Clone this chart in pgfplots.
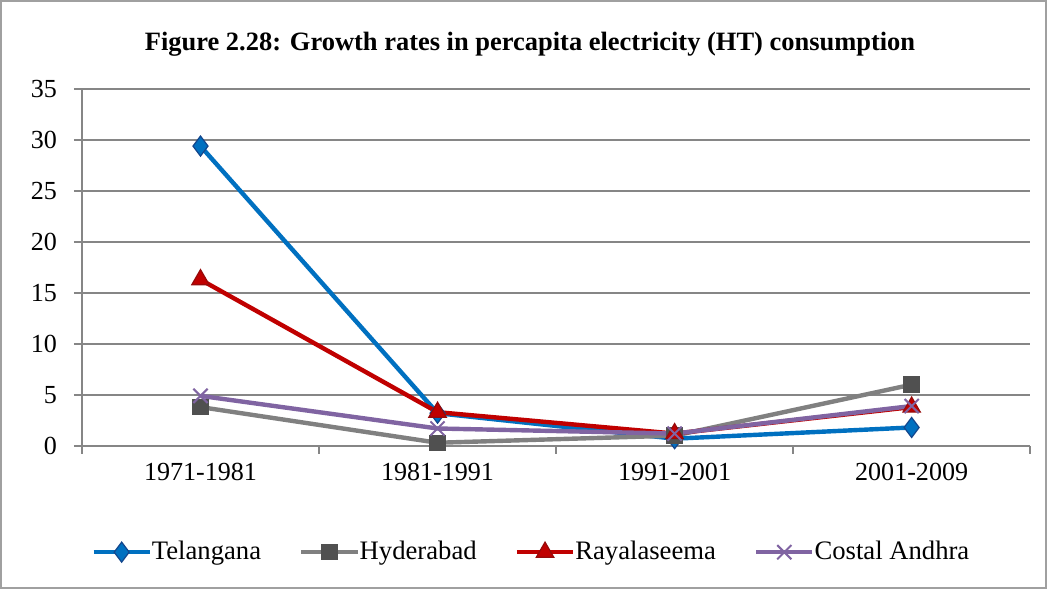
\documentclass[border=0pt]{standalone}
\usepackage{fontspec}
\setmainfont{Liberation Serif}
\usepackage{pgfplots}
\pgfplotsset{compat=1.18}
\definecolor{cTel}{RGB}{0,112,192}
\definecolor{cTelD}{RGB}{20,70,140}
\definecolor{cHyd}{RGB}{128,128,128}
\definecolor{cHydD}{RGB}{80,80,80}
\definecolor{cRay}{RGB}{192,0,0}
\definecolor{cRayD}{RGB}{150,10,10}
\definecolor{cCos}{RGB}{128,100,162}
\definecolor{cGrid}{RGB}{134,134,134}
\begin{document}
\begin{tikzpicture}
\draw[draw={rgb,255:red,160;green,160;blue,160}, line width=0.8pt] (-40.5pt,-71pt) rectangle (481pt,222pt);
\node[font=\fontsize{13.2}{15}\selectfont\bfseries] at (223.5pt,200.5pt) {Figure 2.28: Growth rates in percapita electricity (HT) consumption};
\begin{axis}[
  at={(0,0)}, anchor=south west,
  scale only axis, width=473pt, height=178pt,
  xmin=0, xmax=4, ymin=0, ymax=35,
  axis x line=bottom, axis y line=left,
  axis line style={-, draw=cGrid, line width=1pt},
  xtick={0.5,1.5,2.5,3.5},
  xticklabels={1971-1981,1981-1991,1991-2001,2001-2009},
  major x tick style={draw=none},
  minor xtick={0,1,2,3,4},
  minor x tick style={draw=cGrid, line width=1pt},
  minor tick length=4pt,
  ytick={0,5,...,35},
  ytick style={draw=cGrid, line width=1pt},
  major tick length=4pt,
  tick align=outside,
  ymajorgrids, grid style={draw=cGrid, line width=1pt},
  ticklabel style={font=\fontsize{13}{15}\selectfont},
  yticklabel style={xshift=-5pt},
  xticklabel style={yshift=-1pt},
  /pgf/number format/assume math mode=true,
  clip=false,
  legend columns=4,
  legend style={at={(0.475,-0.298)}, anchor=center, draw=none, fill=none,
    font=\fontsize{13.3}{15}\selectfont, column sep=0pt,
    /tikz/every even column/.append style={column sep=17pt},
    /tikz/every odd column/.append style={column sep=-2pt}},
  legend image code/.code={
    \draw[#1, mark=none] (0pt,0pt) -- (28pt,0pt);
    \draw[#1, only marks] plot coordinates {(14pt,0pt)};
  },
  every axis plot/.append style={line width=2.2pt},
]
\addplot[color=cTel, mark=diamond*, mark size=5pt, mark options={fill=cTel, draw=cTelD, line width=0.6pt}]
  coordinates {(0.5,29.4) (1.5,3.2) (2.5,0.7) (3.5,1.8)};
\addlegendentry{Telangana}
\addplot[color=cHyd, mark=square*, mark size=3.8pt, mark options={fill=cHydD, draw=cHydD, line width=0.6pt}]
  coordinates {(0.5,3.8) (1.5,0.3) (2.5,1.0) (3.5,6.0)};
\addlegendentry{Hyderabad}
\addplot[color=cRay, mark=triangle*, mark size=5pt, mark options={fill=cRay, draw=cRayD, line width=0.6pt}]
  coordinates {(0.5,16.3) (1.5,3.3) (2.5,1.2) (3.5,3.8)};
\addlegendentry{Rayalaseema}
\addplot[color=cCos, mark=x, mark size=5pt, mark options={draw=cCos, line width=1pt}]
  coordinates {(0.5,4.9) (1.5,1.7) (2.5,1.2) (3.5,3.9)};
\addlegendentry{Costal Andhra}
\end{axis}
\end{tikzpicture}
\end{document}
